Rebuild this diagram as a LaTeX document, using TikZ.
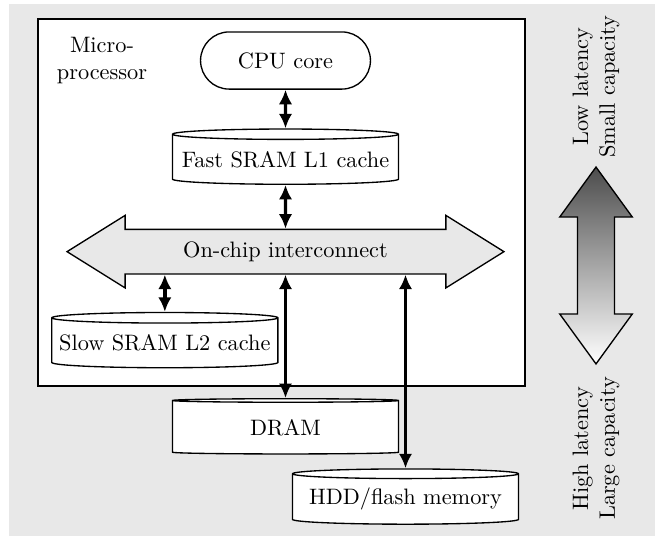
\documentclass[tikz,border=0pt]{standalone}
\usepackage{tikz}
\usetikzlibrary{shapes,arrows.meta}

\begin{document}
\begin{tikzpicture}[>={Latex[length=6.5pt,width=6pt]},node distance=1.56cm,semithick]
\tikzstyle{core}=[draw,rounded rectangle,minimum width=2.91cm,minimum height=0.9cm,fill=white]
\tikzstyle{mem}=[draw,cylinder,shape border rotate=90,aspect=0.05,minimum width=3.56cm,minimum height=0.87cm,inner sep=0pt,fill=white]
\tikzstyle{bus}=[<->,line width=1.5pt]
\tikzstyle{note}=[rotate=90,align=center]
% background and bounding box
\useasboundingbox (-4.496,0.953) rectangle (5.866,-7.52);
\fill[black!9] (-4.354,0.89) rectangle (5.819,-7.488);
\draw[fill=white] (-3.898,0.654) rectangle (3.772,-5.126);

\node[core] (cpu) {CPU core};
\node[align=center][left of=cpu,node distance=2.89cm] (up) {Micro-\\processor};
\node[mem][below of=cpu] (l1) {Fast SRAM L1 cache};
\node[draw,double arrow,fill=black!9,double arrow tip angle=64,double arrow head extend=0.22cm,
      minimum height=6.88cm,minimum width=1.12cm,inner ysep=5.2pt][below of=l1,node distance=1.45cm] (ic) {On-chip interconnect};
\node[mem][below of=ic,node distance=1.44cm,xshift=-1.9cm] (l2) {Slow SRAM L2 cache};
\node[mem][below of=ic,node distance=2.77cm] (dram) {DRAM};
\node[mem][below of=dram,node distance=1.13cm,xshift=1.89cm] (hdd) {HDD/flash memory};

% latency arrow
\node[draw,double arrow,shape border rotate=90,top color=black!70,bottom color=white,
      double arrow tip angle=72,double arrow head extend=0.28cm,
      minimum height=3.1cm,minimum width=1.13cm,inner sep=8pt] (lat) at (4.89,-3.228) {};
\node[note,anchor=west] (fast) at (lat.north) {Low latency\\Small capacity};
\node[note,anchor=east] (slow) at ([yshift=-0.06cm]lat.south) {High latency\\Large capacity};

\path[bus] (cpu) edge (l1)
           (l1) edge (ic);
\draw[bus] (l2.north) -- (l2.north |- ic.south);
\draw[bus] (dram.north) -- (dram.north |- ic.south);
\draw[bus] (hdd.north) -- (hdd.north |- ic.south);
\end{tikzpicture}
\end{document}
